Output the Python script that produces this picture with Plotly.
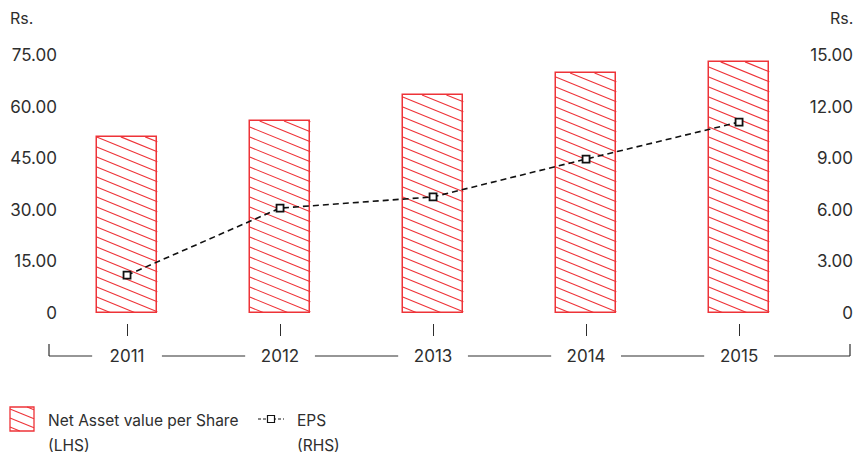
import plotly.graph_objects as go

# ---- data -------------------------------------------------------------
years = ["2011", "2012", "2013", "2014", "2015"]
nav_per_share = [51.2, 55.8, 63.4, 69.8, 73.0]   # Rs., left axis
eps = [2.2, 6.1, 6.75, 8.95, 11.1]              # Rs., right axis
lhs_tickvals = [0, 15, 30, 45, 60, 75]
lhs_ticktext = ["0", "15.00", "30.00", "45.00", "60.00", "75.00"]
rhs_tickvals = [0, 3, 6, 9, 12, 15]
rhs_ticktext = ["0", "3.00", "6.00", "9.00", "12.00", "15.00"]

# ---- styling / geometry ------------------------------------------------
W, H = 856, 454
RED = "#EE3338"
INK = "#2e2e2e"
FONT = "Inter, Roboto, sans-serif"

PLOT_L, PLOT_R = 49, 850      # plot area, px
PLOT_T, PLOT_B = 55, 313
XAXIS_Y = 323                 # where the category ticks start
BASE_Y = 356                  # bracket line under the years
X_RANGE = [-0.51, 4.725]
Y_RANGE = [0, 75]
Y2_RANGE = [0, 15]
BAR_W = 0.396
GAP = 0.228                   # half-gap in the bracket line around a year label

HATCH_SLOPE = 0.41            # screen px drop per px to the right
HATCH_STEP = 10               # vertical px between hatch lines


def fx(px):
    return px / W


def fy(py):
    return 1 - py / H


pos = list(range(len(years)))

# hatch lines for the bars, in data units
px_per_x = (PLOT_R - PLOT_L) / (X_RANGE[1] - X_RANGE[0])
px_per_y = (PLOT_B - PLOT_T) / (Y_RANGE[1] - Y_RANGE[0])
k = HATCH_SLOPE * px_per_x / px_per_y
step = HATCH_STEP / px_per_y
hx, hy = [], []
for p, v in zip(pos, nav_per_share):
    x0, x1 = p - BAR_W / 2, p + BAR_W / 2
    c = step * 0.6
    while c < v + k * BAR_W:
        xs = max(x0, x0 + (c - v) / k)
        xe = min(x1, x0 + c / k)
        if xe > xs:
            hx += [xs, xe, None]
            hy += [c - k * (xs - x0), c - k * (xe - x0), None]
        c += step

fig = go.Figure()
fig.add_trace(go.Bar(
    x=pos, y=nav_per_share, width=BAR_W, name="Net Asset value per Share (LHS)",
    marker=dict(color="white", line=dict(color=RED, width=1.5)),
    showlegend=False, hoverinfo="skip",
))
fig.add_trace(go.Scatter(
    x=hx, y=hy, mode="lines", line=dict(color=RED, width=1.1),
    showlegend=False, hoverinfo="skip",
))
fig.add_trace(go.Scatter(
    x=pos, y=eps, yaxis="y2", name="EPS (RHS)", mode="lines+markers",
    line=dict(color="#111111", width=1.6, dash="6px,4px"),
    marker=dict(symbol="square", size=7, color="white",
                line=dict(color="#111111", width=1.8)),
    showlegend=False,
))

shapes = []
# bracket line under the year labels
edges = [X_RANGE[0]]
for p in pos:
    edges += [p - GAP, p + GAP]
edges.append(X_RANGE[1])
for a, b in zip(edges[0::2], edges[1::2]):
    shapes.append(dict(type="line", xref="x", yref="paper", x0=a, x1=b,
                       y0=fy(BASE_Y), y1=fy(BASE_Y), line=dict(color=INK, width=1.2)))
for xd in (0, 1):
    shapes.append(dict(type="line", xref="x domain", yref="paper", x0=xd, x1=xd,
                       y0=fy(344), y1=fy(BASE_Y), line=dict(color=INK, width=1.2)))

# legend: hatched swatch
SW_L, SW_T, SW = 10, 407, 24
shapes.append(dict(type="rect", xref="paper", yref="paper",
                   x0=fx(SW_L), x1=fx(SW_L + SW), y0=fy(SW_T), y1=fy(SW_T + SW),
                   line=dict(color=RED, width=1.3), fillcolor="white"))
c = 4
while c < SW + HATCH_SLOPE * SW:
    xs = max(0, (c - SW) / HATCH_SLOPE)
    xe = min(SW, c / HATCH_SLOPE)
    if xe > xs:
        shapes.append(dict(type="line", xref="paper", yref="paper",
                           x0=fx(SW_L + xs), x1=fx(SW_L + xe),
                           y0=fy(SW_T + SW - (c - HATCH_SLOPE * xs)),
                           y1=fy(SW_T + SW - (c - HATCH_SLOPE * xe)),
                           line=dict(color=RED, width=1.1)))
    c += 9
# legend: dashed line with square marker
LG_Y = 419
shapes.append(dict(type="line", xref="paper", yref="paper", x0=fx(258), x1=fx(284),
                   y0=fy(LG_Y), y1=fy(LG_Y), line=dict(color="#111111", width=1.2, dash="3px,2px")))
shapes.append(dict(type="rect", xref="paper", yref="paper", x0=fx(267.5), x1=fx(274.5),
                   y0=fy(LG_Y - 3.5), y1=fy(LG_Y + 3.5),
                   line=dict(color="#111111", width=1.2), fillcolor="white"))

tick_font = dict(family=FONT, size=17, color=INK)
leg_font = dict(family=FONT, size=15.5, color=INK)
annotations = [
    dict(text="Rs.", x=fx(8), y=fy(18), xanchor="left", font=dict(family=FONT, size=16, color=INK)),
    dict(text="Rs.", x=fx(855), y=fy(18), xanchor="right", font=dict(family=FONT, size=16, color=INK)),
    dict(text="Net Asset value per Share", x=fx(46), y=fy(420), xanchor="left", font=leg_font),
    dict(text="(LHS)", x=fx(46), y=fy(445), xanchor="left", font=leg_font),
    dict(text="EPS", x=fx(295), y=fy(420), xanchor="left", font=leg_font),
    dict(text="(RHS)", x=fx(295), y=fy(445), xanchor="left", font=leg_font),
]
for a in annotations:
    a.update(xref="paper", yref="paper", yanchor="middle", showarrow=False)

fig.update_layout(
    width=W, height=H, margin=dict(l=0, r=0, t=0, b=0, autoexpand=False),
    paper_bgcolor="white", plot_bgcolor="white",
    font=tick_font, showlegend=False, bargap=0,
    xaxis=dict(domain=[fx(PLOT_L), fx(PLOT_R)], range=X_RANGE,
               tickvals=pos, ticktext=years, ticks="outside", ticklen=12,
               tickwidth=1.2, tickcolor=INK, showgrid=False, zeroline=False,
               showline=False, anchor="free", position=fy(XAXIS_Y),
               ticklabelstandoff=6, tickfont=tick_font, automargin=False),
    yaxis=dict(domain=[fy(PLOT_B), fy(PLOT_T)], range=Y_RANGE,
               tickvals=lhs_tickvals, ticktext=lhs_ticktext, showgrid=False,
               zeroline=False, showline=False, anchor="free", position=fx(57),
               tickfont=tick_font, automargin=False),
    yaxis2=dict(overlaying="y", side="right", range=Y2_RANGE,
                tickvals=rhs_tickvals, ticktext=rhs_ticktext, showgrid=False,
                zeroline=False, showline=False, anchor="free", position=1,
                ticklabelposition="inside", ticklabeloverflow="allow",
                tickfont=tick_font, automargin=False),
    shapes=shapes, annotations=annotations,
)

fig.write_html("out.html")
